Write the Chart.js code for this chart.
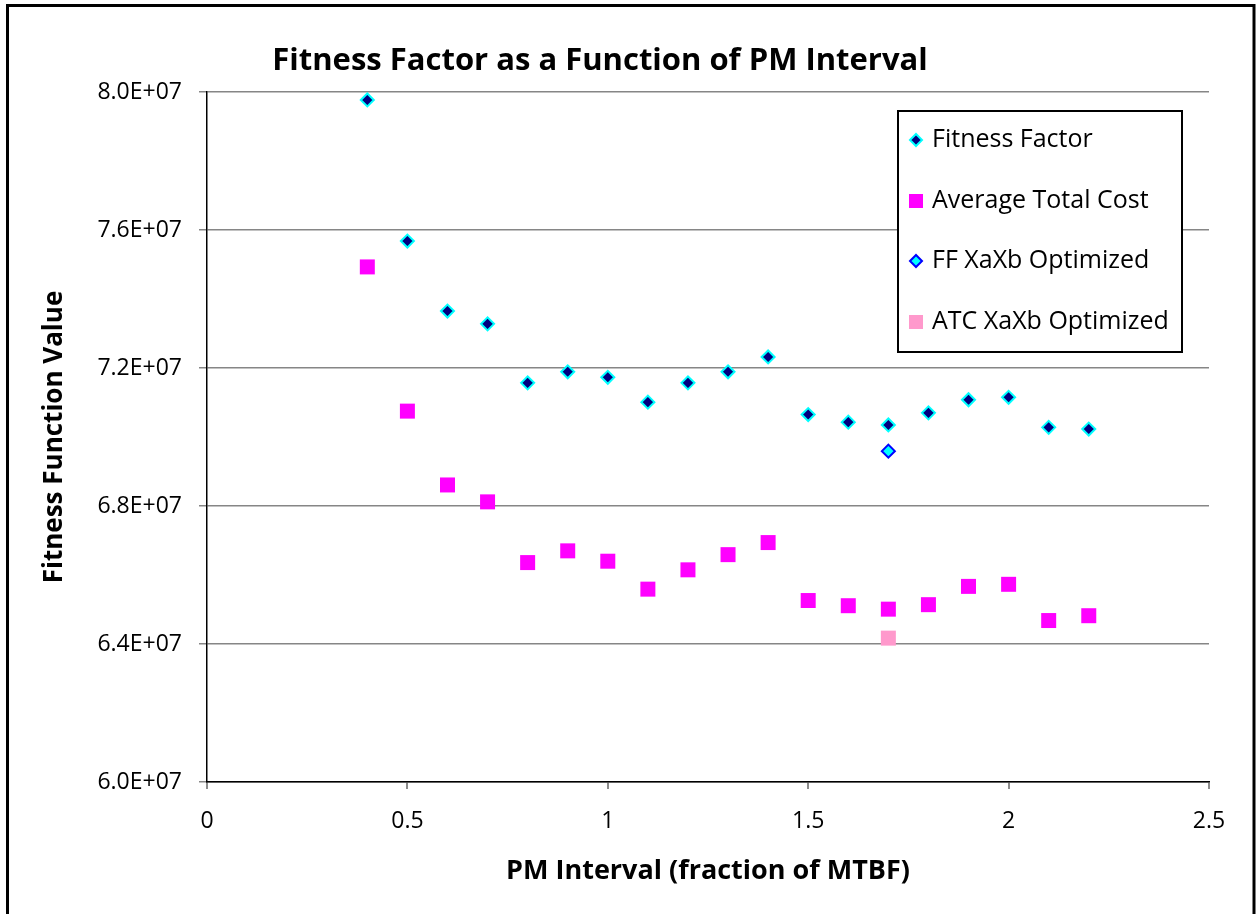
<!DOCTYPE html>
<html>
<head>
<meta charset="utf-8">
<title>Fitness Factor as a Function of PM Interval</title>
<script src="https://cdn.jsdelivr.net/npm/chart.js@4.4.0/dist/chart.umd.min.js"></script>
<style>
  html, body { margin: 0; padding: 0; background: #fff; }
  canvas { display: block; }
</style>
</head>
<body>
<canvas id="ffChart" width="1257" height="914"></canvas>
<script>
// ===== DATA =====
const pmInterval = [0.4, 0.5, 0.6, 0.7, 0.8, 0.9, 1.0, 1.1, 1.2, 1.3, 1.4, 1.5, 1.6, 1.7, 1.8, 1.9, 2.0, 2.1, 2.2];
const fitnessFactor = [7.977e7, 7.568e7, 7.365e7, 7.328e7, 7.157e7, 7.189e7, 7.173e7, 7.101e7, 7.157e7, 7.189e7,
                       7.232e7, 7.065e7, 7.043e7, 7.035e7, 7.070e7, 7.108e7, 7.115e7, 7.028e7, 7.023e7];
const avgTotalCost = [7.493e7, 7.075e7, 6.861e7, 6.812e7, 6.636e7, 6.670e7, 6.640e7, 6.559e7, 6.615e7, 6.659e7,
                      6.694e7, 6.526e7, 6.511e7, 6.501e7, 6.514e7, 6.567e7, 6.573e7, 6.468e7, 6.482e7];
const optInterval = [1.7];
const ffOptimized = [6.959e7];
const atcOptimized = [6.417e7];

const xTicks = [0, 0.5, 1, 1.5, 2, 2.5];
const yMin = 6.0e7, yMax = 8.0e7, yStep = 0.4e7;

const seriesNames = ["Fitness Factor", "Average Total Cost", "FF XaXb Optimized", "ATC XaXb Optimized"];

// ===== helpers =====
function toPoints(xs, ys) {
  return xs.map((x, i) => ({ x: x, y: ys[i] }));
}

// 8.0E+07 style
function sciLabel(v) {
  const parts = Number(v).toExponential(1).split("e");
  const e = parseInt(parts[1], 10);
  return parts[0] + "E" + (e < 0 ? "-" : "+") + String(Math.abs(e)).padStart(2, "0");
}

const FONT = "'Open Sans', 'DejaVu Sans', sans-serif";
Chart.defaults.font.family = FONT;
Chart.defaults.color = "#000";

// title, legend box and outer frame
const decorPlugin = {
  id: "decor",
  afterDraw(chart) {
    const c = chart.ctx;
    c.save();

    // title
    c.font = "bold 31px " + FONT;
    c.fillStyle = "#000";
    c.textAlign = "center";
    c.textBaseline = "middle";
    c.fillText("Fitness Factor as a Function of PM Interval", 600, 61);

    // legend
    c.fillStyle = "#fff";
    c.fillRect(898, 111, 284, 241);
    c.lineWidth = 2;
    c.strokeStyle = "#000";
    c.strokeRect(898, 111, 284, 241);

    const rows = [140, 201, 261, 322];
    c.font = "25px " + FONT;
    c.textAlign = "left";
    chart.data.datasets.forEach((ds, i) => {
      const isDiamond = ds.pointStyle === "rectRot";
      const y = rows[i];
      c.fillStyle = ds.pointBackgroundColor;
      c.strokeStyle = ds.pointBorderColor;
      c.lineWidth = ds.pointBorderWidth;
      c.beginPath();
      if (isDiamond) {
        c.moveTo(916 - 6, y); c.lineTo(916, y - 6);
        c.lineTo(916 + 6, y); c.lineTo(916, y + 6);
      } else {
        c.rect(916 - 7, y - 7, 14, 14);
      }
      c.closePath();
      c.fill();
      if (ds.pointBorderWidth) c.stroke();
      c.fillStyle = "#000";
      c.fillText(ds.label, 932, y);
    });

    // outer frame
    c.lineWidth = 3;
    c.strokeStyle = "#000";
    c.strokeRect(7.5, 5.5, 1246.5, 920);

    c.restore();
  }
};

const ctx = document.getElementById("ffChart").getContext("2d");

const ffChart = new Chart(ctx, {
  type: "scatter",
  data: {
    datasets: [
      {
        label: seriesNames[0],
        data: toPoints(pmInterval, fitnessFactor),
        pointStyle: "rectRot",
        pointRadius: 6.5,
        pointBorderWidth: 2,
        pointBackgroundColor: "#000080",
        pointBorderColor: "#00ffff",
        showLine: false
      },
      {
        label: seriesNames[1],
        data: toPoints(pmInterval, avgTotalCost),
        pointStyle: "rect",
        pointRadius: 10.6,
        pointBorderWidth: 0,
        pointBackgroundColor: "#ff00ff",
        pointBorderColor: "#ff00ff",
        showLine: false
      },
      {
        label: seriesNames[2],
        data: toPoints(optInterval, ffOptimized),
        pointStyle: "rectRot",
        pointRadius: 6.5,
        pointBorderWidth: 2,
        pointBackgroundColor: "#00ffff",
        pointBorderColor: "#0000ff",
        showLine: false
      },
      {
        label: seriesNames[3],
        data: toPoints(optInterval, atcOptimized),
        pointStyle: "rect",
        pointRadius: 10.6,
        pointBorderWidth: 0,
        pointBackgroundColor: "#ff99cc",
        pointBorderColor: "#ff99cc",
        showLine: false
      }
    ]
  },
  options: {
    responsive: false,
    animation: false,
    events: [],
    layout: { padding: { top: 92, right: 48, bottom: 0, left: 0 } },
    plugins: {
      legend: { display: false },
      title: { display: false },
      tooltip: { enabled: false }
    },
    scales: {
      x: {
        type: "linear",
        min: xTicks[0],
        max: xTicks[xTicks.length - 1],
        afterFit: s => { s.height = 132; },
        afterBuildTicks: s => { s.ticks = xTicks.map(v => ({ value: v })); },
        ticks: {
          font: { size: 23 },
          padding: 19,
          maxRotation: 0,
          autoSkip: false,
          callback: v => String(v)
        },
        grid: { drawOnChartArea: false, drawTicks: true, tickLength: 7, color: "#8c8c8c", lineWidth: 2 },
        border: { display: true, color: "#000", width: 1.5 },
        title: {
          display: true,
          text: "PM Interval (fraction of MTBF)",
          font: { size: 27, weight: "bold" },
          padding: { top: 0, bottom: 26 }
        }
      },
      y: {
        type: "linear",
        min: yMin,
        max: yMax,
        afterFit: s => { s.width = 207; },
        ticks: {
          stepSize: yStep,
          font: { size: 23 },
          padding: 17,
          callback: v => sciLabel(v)
        },
        grid: { color: "#868686", lineWidth: 1.5, tickLength: 8 },
        border: { display: true, color: "#000", width: 1.5 },
        title: {
          display: true,
          text: "Fitness Function Value",
          font: { size: 26, weight: "bold" },
          padding: { top: 39, bottom: 0 }
        }
      }
    }
  },
  plugins: [decorPlugin]
});
</script>
</body>
</html>
